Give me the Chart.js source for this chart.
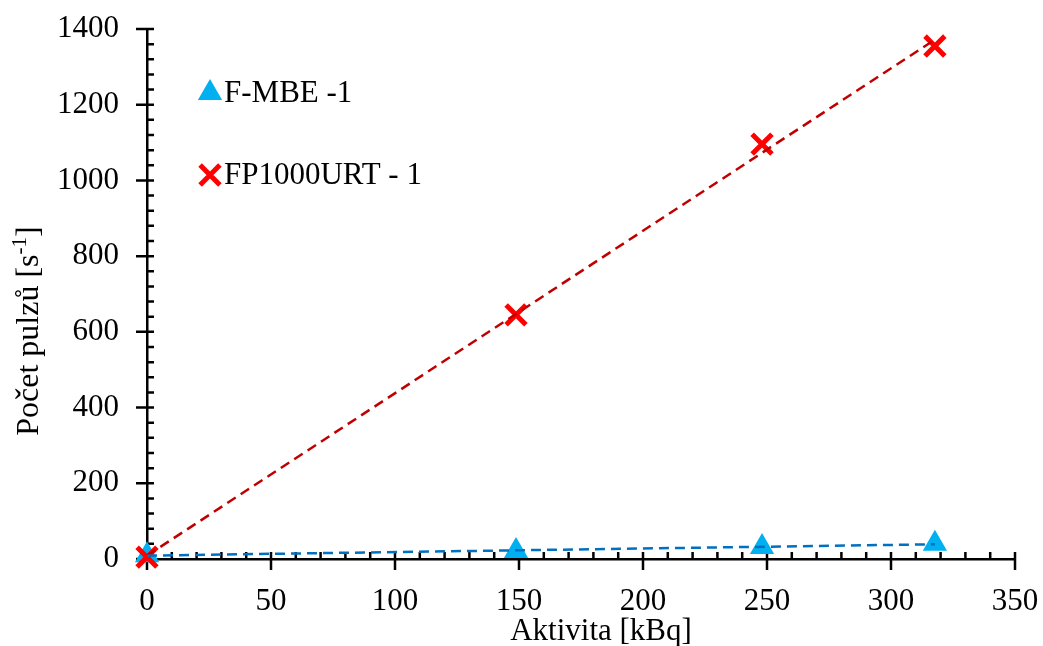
<!DOCTYPE html>
<html>
<head>
<meta charset="utf-8">
<script src="https://cdn.jsdelivr.net/npm/chart.js@4"></script>
<style>
  body { margin: 0; background: #fff; }
  #wrap { width: 1043px; height: 646px; }
</style>
</head>
<body>
<div id="wrap"><canvas id="myChart"></canvas></div>
<script>
// values
const aktivita = [0, 148.8, 248, 317.7];
const fmbe = [10, 21, 32, 40];
const fp1000 = [5, 645, 1096, 1355];
const seriesNames = ["F-MBE -1", "FP1000URT - 1"];
const xTicks = [0, 50, 100, 150, 200, 250, 300, 350];
const yTicks = [0, 200, 400, 600, 800, 1000, 1200, 1400];

const FONT = "'Liberation Serif', 'Times New Roman', serif";

// least squares trend line, from first to last point
function trend(xs, ys) {
  const n = xs.length;
  let mx = 0, my = 0;
  for (let i = 0; i < n; i++) { mx += xs[i]; my += ys[i]; }
  mx /= n; my /= n;
  let sxy = 0, sxx = 0;
  for (let i = 0; i < n; i++) {
    sxy += (xs[i] - mx) * (ys[i] - my);
    sxx += (xs[i] - mx) * (xs[i] - mx);
  }
  const k = sxy / sxx, q = my - k * mx;
  const x0 = xs[0], x1 = xs[n - 1];
  return [{x: x0, y: k * x0 + q}, {x: x1, y: k * x1 + q}];
}

function pts(xs, ys) {
  return xs.map((x, i) => ({x: x, y: ys[i]}));
}

const axisTicks = {
  id: 'axisTicks',
  beforeDatasetsDraw(chart) {
    const ctx = chart.ctx;
    const xs = chart.scales.x, ys = chart.scales.y;
    const a = chart.chartArea;
    ctx.save();
    ctx.strokeStyle = '#000';
    ctx.lineWidth = 2.5;
    ctx.beginPath();
    for (let v = xTicks[0]; v <= xTicks[xTicks.length - 1]; v += 10) {
      const px = xs.getPixelForValue(v);
      const major = v % 50 === 0;
      ctx.moveTo(px, a.bottom - 7);
      ctx.lineTo(px, major ? a.bottom + 11 : a.bottom);
    }
    for (let v = yTicks[0]; v <= yTicks[yTicks.length - 1]; v += 40) {
      const py = ys.getPixelForValue(v);
      const major = v % 200 === 0;
      ctx.moveTo(major ? a.left - 11 : a.left, py);
      ctx.lineTo(a.left + 7, py);
    }
    ctx.stroke();
    ctx.restore();
  },
  afterDraw(chart) {
    const ctx = chart.ctx;
    const h = Chart.helpers;
    ctx.save();
    // legend
    const items = [
      {ds: chart.data.datasets[2], y: 93},
      {ds: chart.data.datasets[3], y: 175}
    ];
    items.forEach(it => {
      ctx.fillStyle = it.ds.pointBackgroundColor;
      ctx.strokeStyle = it.ds.pointBorderColor;
      ctx.lineWidth = it.ds.pointBorderWidth;
      h.drawPoint(ctx, {pointStyle: it.ds.pointStyle, radius: it.ds.pointRadius, rotation: 0, borderWidth: it.ds.pointBorderWidth}, 210, it.y);
      ctx.fillStyle = '#000';
      ctx.font = '31px ' + FONT;
      ctx.textBaseline = 'middle';
      ctx.textAlign = 'left';
      ctx.fillText(it.ds.label, 224, it.y + 1);
    });

    // x title
    ctx.fillStyle = '#000';
    ctx.font = '31px ' + FONT;
    ctx.textAlign = 'center';
    ctx.textBaseline = 'alphabetic';
    ctx.fillText('Aktivita [kBq]', 601, 640);

    // y title with superscript
    ctx.translate(38, 331);
    ctx.rotate(-Math.PI / 2);
    const main = 'Počet pulzů [s';
    const sup = '-1';
    const end = ']';
    ctx.font = '32px ' + FONT;
    const w1 = ctx.measureText(main).width;
    const w3 = ctx.measureText(end).width;
    ctx.font = '21px ' + FONT;
    const w2 = ctx.measureText(sup).width;
    let x = -(w1 + w2 + w3) / 2;
    ctx.textAlign = 'left';
    ctx.font = '32px ' + FONT;
    ctx.fillText(main, x, 0);
    x += w1;
    ctx.font = '21px ' + FONT;
    ctx.fillText(sup, x, -12);
    x += w2;
    ctx.font = '32px ' + FONT;
    ctx.fillText(end, x, 0);
    ctx.restore();
  }
};

function noPad(scale) {
  scale.paddingTop = 0;
  scale.paddingBottom = 0;
  scale.paddingLeft = 0;
  scale.paddingRight = 0;
}

new Chart(document.getElementById('myChart'), {
  type: 'scatter',
  data: {
    datasets: [
      {
        type: 'line',
        label: 'trend F-MBE',
        data: trend(aktivita, fmbe),
        borderColor: '#0070c0',
        borderWidth: 2.5,
        borderDash: [10, 6],
        pointRadius: 0,
        fill: false,
        clip: false,
        order: 0
      },
      {
        type: 'line',
        label: 'trend FP1000',
        data: trend(aktivita, fp1000),
        borderColor: '#c00000',
        borderWidth: 2.5,
        borderDash: [10, 6],
        pointRadius: 0,
        fill: false,
        clip: false,
        order: 0
      },
      {
        label: seriesNames[0],
        data: pts(aktivita, fmbe),
        pointStyle: 'triangle',
        pointRadius: 12,
        pointBackgroundColor: '#00b0f0',
        pointBorderColor: '#00b0f0',
        pointBorderWidth: 2,
        clip: false,
        order: 2
      },
      {
        label: seriesNames[1],
        data: pts(aktivita, fp1000),
        pointStyle: 'crossRot',
        pointRadius: 14,
        pointBackgroundColor: '#ff0000',
        pointBorderColor: '#ff0000',
        pointBorderWidth: 5,
        clip: false,
        order: 1
      }
    ]
  },
  options: {
    responsive: true,
    maintainAspectRatio: false,
    animation: false,
    layout: { padding: { top: 29, right: 28, left: 0, bottom: 0 } },
    plugins: {
      legend: { display: false },
      tooltip: { enabled: false }
    },
    scales: {
      x: {
        type: 'linear',
        min: xTicks[0],
        max: xTicks[xTicks.length - 1],
        afterBuildTicks(scale) { scale.ticks = xTicks.map(v => ({value: v})); },
        afterFit(scale) { scale.height = 87; noPad(scale); },
        grid: { display: false, drawTicks: false },
        border: { display: true, color: '#000', width: 2.5 },
        ticks: { color: '#000', padding: 24, font: { family: FONT, size: 31 }, maxRotation: 0,
                 callback: v => String(v) }
      },
      y: {
        type: 'linear',
        min: yTicks[0],
        max: yTicks[yTicks.length - 1],
        afterBuildTicks(scale) { scale.ticks = yTicks.map(v => ({value: v})); },
        afterFit(scale) { scale.width = 147; noPad(scale); },
        grid: { display: false, drawTicks: false },
        border: { display: true, color: '#000', width: 2.5 },
        ticks: { color: '#000', padding: 28, font: { family: FONT, size: 31 },
                 callback: v => String(v) }
      }
    }
  },
  plugins: [axisTicks]
});
</script>
</body>
</html>
